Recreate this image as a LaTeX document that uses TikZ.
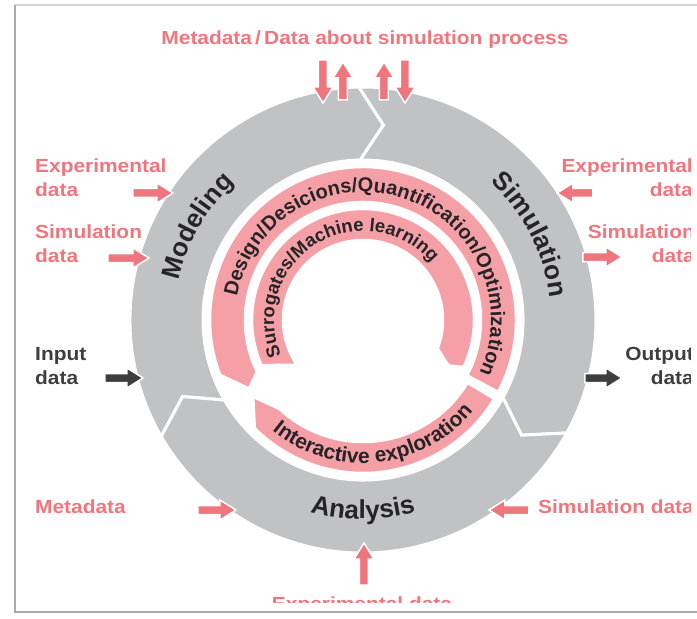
\documentclass[tikz,border=0pt]{standalone}
\usepackage{fontspec}
\setmainfont{Liberation Sans}
\newfontfamily\lblfont{Liberation Sans}[FakeStretch=1.1]
\usetikzlibrary{decorations.text}

\definecolor{ringgray}{RGB}{193,194,196}
\definecolor{bandpink}{RGB}{244,160,166}
\definecolor{labelpink}{RGB}{240,118,126}
\definecolor{arrowdark}{RGB}{62,62,62}
\definecolor{txtdark}{RGB}{38,36,38}
\definecolor{framegray}{RGB}{170,170,170}

% one grey arrow segment of the cycle, from angle #1 clockwise to angle #2
\newcommand{\ringseg}[2]{%
  \filldraw[fill=ringgray, draw=white, line width=3pt, line join=miter]
    (#1:233) arc[start angle=#1, end angle=#2, radius=233]
    -- ({#2-7}:196) -- (#2:160) arc[start angle=#2, end angle=#1, radius=160]
    -- ({#1-7}:196) -- cycle;}
% small block arrow: tail, direction, length, colour
\newcommand{\blockarr}[4]{%
  \filldraw[fill=#4, draw=white, line width=1.5pt, shift={(#1)}, rotate=#2]
    (0,-4.5) -- ({#3-16},-4.5) -- ({#3-16},-10) -- (#3,0)
    -- ({#3-16},10) -- ({#3-16},4.5) -- (0,4.5) -- cycle;}
\newcommand{\bandfont}{\fontsize{20}{20}\selectfont\bfseries}
\newcommand{\smallbandfont}{\fontsize{18.5}{18.5}\selectfont\bfseries}
\newcommand{\explfont}{\fontsize{21}{21}\selectfont\bfseries}
\newcommand{\ringfont}{\fontsize{26}{26}\selectfont\bfseries}

\begin{document}
\begin{tikzpicture}[x=1pt, y=1pt,
  lbl/.style={font=\lblfont\bfseries\fontsize{19}{24}\selectfont, inner sep=0pt, text=labelpink, align=left},
  lbldark/.style={lbl, text=arrowdark},
  band/.style={fill=bandpink, draw=white, line width=2.5pt}]
\useasboundingbox (-363,-299) rectangle (334,320);

% frame of the slide
\draw[framegray!50, line width=1.2pt] (340,315) -- (-348,315);
\draw[framegray, line width=2pt] (-348,315) -- (-348,-292) -- (340,-292);

\begin{scope}
\clip (-346,-282) rectangle (327,312);

% grey cycle
\ringseg{210}{91}
\ringseg{91}{-29}
\ringseg{-29}{-150}

% pink inner bands
\filldraw[band] (-28:153) arc[start angle=-28, end angle=201, radius=153]
  -- (211:133) -- (206:118) arc[start angle=206, end angle=-28, radius=118] -- cycle;
\filldraw[band] (-25:111) arc[start angle=-25, end angle=204, radius=111]
  -- (214:80) arc[start angle=214, end angle=-21, radius=80] -- (-28:97) -- cycle;
\filldraw[band] (-31:153) arc[start angle=-31, end angle=-135, radius=153]
  -- (-145:134) -- (-133:122) arc[start angle=-133, end angle=-31, radius=122] -- cycle;

% curved texts
\path[decorate, decoration={text along path, text color=txtdark, text align=center,
  text={|\ringfont|Modeling}}] (175:188) arc[start angle=175, end angle=126, radius=188];
\path[decorate, decoration={text along path, text color=txtdark, text align=center,
  text={|\ringfont|Simulation}}] (54:188) arc[start angle=54, end angle=0, radius=188];
\path[decorate, decoration={text along path, text color=txtdark, text align=center,
  text={|\ringfont|Analysis}}] (250:199) arc[start angle=250, end angle=290, radius=199];
\path[decorate, decoration={text along path, text color=txtdark, text align=center,
  text={|\bandfont|Design/Desicions/Quantification/Optimization}}]
  (175:128) arc[start angle=175, end angle=-30, radius=128];
\path[decorate, decoration={text along path, text color=txtdark, text align=center,
  text={|\smallbandfont|Surrogates/Machine learning}}]
  (205:89) arc[start angle=205, end angle=38, radius=89];
\path[decorate, decoration={text along path, text color=txtdark, text align=center,
  text={|\explfont|Interactive exploration}}]
  (223:143) arc[start angle=223, end angle=328, radius=143];

% arrows in and out
\coordinate (t1) at (-40,260);
\coordinate (t2) at (-20,220);
\coordinate (t3) at (21,220);
\coordinate (t4) at (42,260);
\coordinate (a1) at (-230,127);
\coordinate (a2) at (-255,62);
\coordinate (a3) at (-258,-58);
\coordinate (b1) at (230,127);
\coordinate (b2) at (220,63);
\coordinate (b3) at (222,-58);
\coordinate (c1) at (-165,-190);
\coordinate (c2) at (166,-190);
\coordinate (c3) at (1,-265);
\blockarr{t1}{-90}{43}{labelpink}
\blockarr{t2}{90}{38}{labelpink}
\blockarr{t3}{90}{38}{labelpink}
\blockarr{t4}{-90}{43}{labelpink}
\blockarr{a1}{0}{40}{labelpink}
\blockarr{a2}{0}{41}{labelpink}
\blockarr{a3}{0}{38}{arrowdark}
\blockarr{b1}{180}{36}{labelpink}
\blockarr{b2}{0}{39}{labelpink}
\blockarr{b3}{0}{37}{arrowdark}
\blockarr{c1}{0}{38}{labelpink}
\blockarr{c2}{180}{40}{labelpink}
\blockarr{c3}{90}{42}{labelpink}

% labels
\node[lbl, anchor=north, align=center] (title) at (2,289) {Metadata\,/\,Data about simulation process};
\node[lbl, anchor=north west] (expL) at (-328,161) {Experimental\\data};
\node[lbl, anchor=north west] (simL) at (-328,95) {Simulation\\data};
\node[lbldark, anchor=north west] (inp) at (-328,-27) {Input\\data};
\node[lbl, anchor=north west] (meta) at (-328,-180) {Metadata};
\node[lbl, anchor=north east, align=right] (expR) at (330,161) {Experimental\\data};
\node[lbl, anchor=north east, align=right] (simR) at (332,95) {Simulation\\data};
\node[lbldark, anchor=north east, align=right] (outp) at (331,-27) {Output\\data};
\node[lbl, anchor=north west] (simB) at (175,-180) {Simulation data};
\node[lbl, anchor=north] (expB) at (-1,-277) {Experimental data};
\end{scope}
\end{tikzpicture}
\end{document}
